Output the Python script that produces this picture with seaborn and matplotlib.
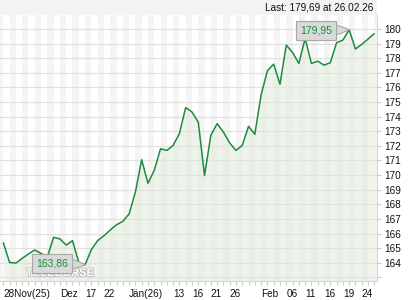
import matplotlib
matplotlib.use("Agg")
import matplotlib.pyplot as plt
import matplotlib.patheffects as pe
from matplotlib.patches import Rectangle
import seaborn as sns
import pandas as pd
import numpy as np

# ---- data ----
values = [165.37, 164.02, 163.98, 164.30, 164.60, 164.87, 164.64, 164.40, 165.74, 165.63,
          165.21, 165.51, 164.02, 163.86, 164.90, 165.51, 165.85, 166.24, 166.60, 166.83,
          167.34, 168.83, 171.05, 169.44, 170.32, 171.80, 171.69, 172.03, 172.84, 174.62,
          174.32, 173.63, 169.97, 172.72, 173.52, 172.95, 172.20, 171.69, 172.03, 173.34,
          172.79, 175.50, 177.14, 177.60, 176.22, 178.90, 178.40, 177.64, 179.36, 177.64,
          177.80, 177.53, 177.69, 179.06, 179.24, 179.95, 178.63, 178.95, 179.31, 179.69]
tick_idx = [0, 9, 13, 16, 20, 27, 30, 33, 36, 41, 45, 48, 51, 54, 57]
tick_labels = ["28Nov(25)", "Dez", "17", "22", "Jän(26)", "13", "16", "21", "26",
               "Feb", "06", "11", "16", "19", "24"]
y_ticks = list(range(163, 181))
y_labels = ["" if v == 163 else str(v) for v in y_ticks]
max_label = "179,95"
min_label = "163,86"
last_text = "Last: 179,69 at 26.02.26"
watermark = "TELEBÖRSE"

df = pd.DataFrame({"i": np.arange(len(values)), "v": values})

sns.set_style("white")
plt.rcParams["font.family"] = ["Liberation Sans", "DejaVu Sans"]

fig = plt.figure(figsize=(4.2, 3.0), dpi=100)
fig.patch.set_facecolor("white")
ax = fig.add_axes([0.0, 19 / 300, 377 / 420, 266 / 300])
ax.set_facecolor("#f4f4f4")

# top grey band
fig.patches.append(Rectangle((0, 285 / 300), 377 / 420, 15 / 300, transform=fig.transFigure,
                             facecolor="#f3f3f3", edgecolor="none", zorder=0))
fig.text(373 / 420, 1 - 7.5 / 300, last_text, ha="right", va="center", fontsize=7.2, color="#111111")

n = len(values)
# alternating stripes
for k in range(0, n - 1, 2):
    ax.axvspan(k, k + 1, color="white", lw=0, zorder=0)

ax.set_xlim(-0.53, n - 1 + 0.43)
ax.set_ylim(162.75, 180.96)

for v in y_ticks:
    ax.axhline(v, color="#e0e0e0", lw=0.9, zorder=1)

ax.fill_between(df["i"], df["v"], 162.75, color="#dfe9db", alpha=0.5, lw=0, zorder=2)
sns.lineplot(data=df, x="i", y="v", ax=ax, color="#1e8a3c", lw=1.1, zorder=4)

# annotations
imax = int(np.argmax(values))
imin = int(np.argmin(values))
box = dict(boxstyle="square,pad=0.4", fc="#d9d9d9", ec="#a8a8a8", lw=0.8)
arr = dict(arrowstyle="wedge,tail_width=0.9,shrink_factor=0.6", fc="#d9d9d9", ec="#a8a8a8",
           lw=0.8, shrinkA=0, shrinkB=0)
ax.annotate(max_label, xy=(imax, values[imax]), xytext=(-24, -0.5), textcoords="offset points",
            ha="center", va="center", fontsize=7.5, color="#1e8a3c", bbox=box, arrowprops=arr, zorder=6)
ax.text(9, 162.95, watermark, fontsize=8, fontweight="bold", color="white", ha="center", va="bottom",
        path_effects=[pe.withStroke(linewidth=1.2, foreground="#bdbdbd")], zorder=3)
ax.annotate(min_label, xy=(imin, values[imin]), xytext=(-24, 1), textcoords="offset points",
            ha="center", va="center", fontsize=7.5, color="#1e8a3c", bbox=box, arrowprops=arr, zorder=6)

# axes styling
for s in ["top", "left"]:
    ax.spines[s].set_visible(False)
for s in ["bottom", "right"]:
    ax.spines[s].set_color("#d6d6d6")
    ax.spines[s].set_linewidth(0.8)
ax.yaxis.tick_right()
ax.set_yticks(y_ticks)
ax.set_yticklabels(y_labels)
ax.set_xticks(tick_idx)
ax.set_xticklabels(tick_labels, ha="left")
ax.set_xticks(np.arange(n), minor=True)
ax.tick_params(axis="x", which="both", length=3, color="#cccccc", width=0.8, labelsize=7.2,
               pad=3, labelcolor="#111111", direction="out", bottom=True)
ax.tick_params(axis="y", which="both", length=3, color="#cccccc", width=0.8, labelsize=7.2,
               pad=2, labelcolor="#111111", direction="out", right=True, left=False)
ax.set_xlabel("")
ax.set_ylabel("")

fig.savefig("out.png", dpi=100)
